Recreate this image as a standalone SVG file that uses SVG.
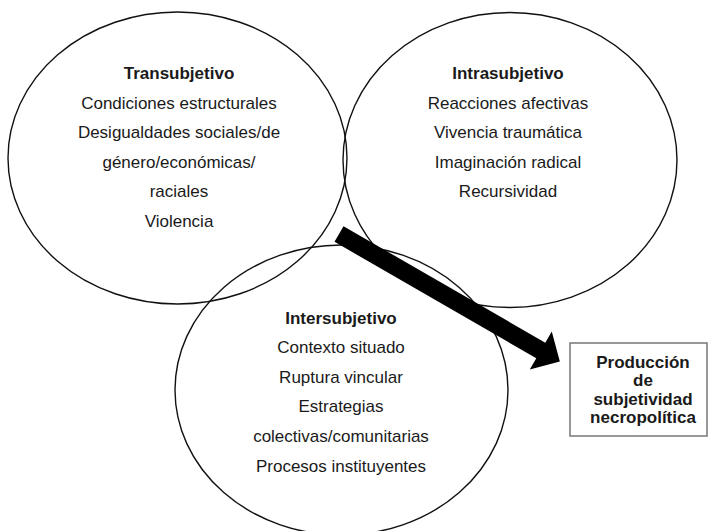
<svg xmlns="http://www.w3.org/2000/svg" width="708" height="531" viewBox="0 0 708 531">
<style>
.c{fill:none;stroke:#111;stroke-width:1.4}
.t{font-family:"Liberation Sans",Arial,sans-serif;font-size:17px;fill:#1a1a1a;text-anchor:middle}
.b{font-weight:bold}
.box{fill:#fff;stroke:#777;stroke-width:1.5}
</style>
<rect width="708" height="531" fill="#fff"/>
<g id="transubjetivo">
<ellipse class="c" cx="177.5" cy="158" rx="169.5" ry="146"/>
<text class="t b" x="179" y="79">Transubjetivo</text>
<text class="t" x="179" y="108.5">Condiciones estructurales</text>
<text class="t" x="179" y="138">Desigualdades sociales/de</text>
<text class="t" x="179" y="167.5">género/económicas/</text>
<text class="t" x="179" y="197">raciales</text>
<text class="t" x="179" y="226.5">Violencia</text>
</g>
<g id="intrasubjetivo">
<ellipse class="c" cx="510" cy="160" rx="167" ry="147.5"/>
<text class="t b" x="508" y="79">Intrasubjetivo</text>
<text class="t" x="508" y="108.5">Reacciones afectivas</text>
<text class="t" x="508" y="138">Vivencia traumática</text>
<text class="t" x="508" y="167.5">Imaginación radical</text>
<text class="t" x="508" y="197">Recursividad</text>
</g>
<g id="intersubjetivo">
<ellipse class="c" cx="341.5" cy="390" rx="166.5" ry="145"/>
<text class="t b" x="341" y="324">Intersubjetivo</text>
<text class="t" x="341" y="353">Contexto situado</text>
<text class="t" x="341" y="383">Ruptura vincular</text>
<text class="t" x="341" y="412">Estrategias</text>
<text class="t" x="341" y="442">colectivas/comunitarias</text>
<text class="t" x="341" y="471.5">Procesos instituyentes</text>
</g>
<g id="produccion">
<rect class="box" x="570" y="343" width="137" height="93"/>
<text class="t b" x="643" y="367.5">Producción</text>
<text class="t b" x="643" y="386">de</text>
<text class="t b" x="643" y="404.5">subjetividad</text>
<text class="t b" x="643" y="423">necropolítica</text>
</g>
<g id="connectors">
<polygon transform="translate(339,234) rotate(30)" fill="#000" points="0,-9 233,-9 233,-22 255,0 233,22 233,9 0,9"/>
</g>
</svg>
